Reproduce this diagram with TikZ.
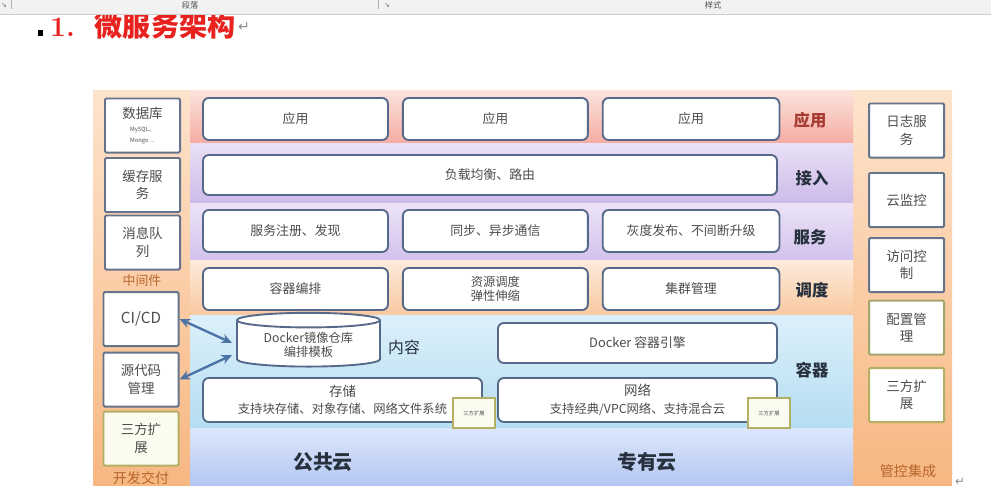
\documentclass[tikz,border=0pt]{standalone}
\usepackage{fontspec}
\usepackage{xcolor}
\usepackage{tikz}
\usetikzlibrary{positioning,arrows.meta,calc,shapes.geometric}

\newfontfamily\cjk{Noto Sans CJK SC}
\newfontfamily\symfont{DejaVu Sans}

\definecolor{boxline}{HTML}{56698A}
\definecolor{sideline}{HTML}{65738C}
\definecolor{extline}{HTML}{B3B066}
\definecolor{extfill}{HTML}{FBFBF0}
\definecolor{boxtext}{HTML}{4D4D4D}
\definecolor{lbltext}{HTML}{26313D}
\definecolor{apptext}{HTML}{A83A32}
\definecolor{sidetext}{HTML}{B8652A}
\definecolor{arrowblue}{HTML}{4B73A8}
\definecolor{titlered}{HTML}{E8231F}
\definecolor{sidetop}{HTML}{FDE3CC}
\definecolor{sidebot}{HTML}{F7B781}
\definecolor{apptop}{HTML}{FBE3DE}
\definecolor{appbot}{HTML}{F5ADA3}
\definecolor{gwtop}{HTML}{E9E0F6}
\definecolor{gwbot}{HTML}{CDBBE8}
\definecolor{svctop}{HTML}{ECE3F7}
\definecolor{svcbot}{HTML}{D2C2EC}
\definecolor{schtop}{HTML}{FDEBDC}
\definecolor{schbot}{HTML}{F9C9A0}
\definecolor{ctrtop}{HTML}{DCF0FA}
\definecolor{ctrbot}{HTML}{B5DDF1}
\definecolor{cloudtop}{HTML}{DCE7FC}
\definecolor{cloudbot}{HTML}{B4C7F2}

\begin{document}
\begin{tikzpicture}[
  x=0.03cm, y=-0.03cm,
  node distance=0.39cm,
  layerbox/.style={draw=boxline, line width=1.6pt, rounded corners=5pt, fill=white,
                   minimum width=5.55cm, minimum height=1.26cm, align=center,
                   text=boxtext, font=\cjk\fontsize{11}{14}\selectfont},
  sidebox/.style={draw=sideline, line width=1.7pt, rounded corners=1pt, fill=white,
                  minimum width=2.25cm, minimum height=1.62cm, align=center,
                  text=boxtext, font=\cjk\fontsize{11.5}{15}\selectfont},
  extbox/.style={sidebox, draw=extline, fill=extfill},
  tinyext/.style={draw=extline, line width=1.3pt, fill=extfill,
                  minimum width=1.26cm, minimum height=0.9cm, inner sep=1pt,
                  text=boxtext, font=\cjk\fontsize{4.5}{5}\selectfont},
  layerlbl/.style={text=lbltext, font=\cjk\bfseries\fontsize{14}{16}\selectfont},
  grouplbl/.style={text=sidetext, font=\cjk\fontsize{11}{13}\selectfont},
  cloudlbl/.style={text=lbltext, font=\cjk\bfseries\fontsize{17}{19}\selectfont},
  biarr/.style={{Stealth[length=9pt,width=8pt]}-{Stealth[length=9pt,width=8pt]},
                line width=2pt, draw=arrowblue},
]
\useasboundingbox (0,0) rectangle (991,502);
\fill[white] (0,0) rectangle (991,502);

%% Title
\fill (38,30) rectangle (43,36);
\node[anchor=base west, inner sep=0pt, text=titlered,
      font=\bfseries\fontsize{24}{26}\selectfont] (title) at (50,36)
  {1.\hspace{0.6cm}{\cjk 微服务架构}};
\node[anchor=base west, inner sep=0pt, text=black!45,
      font=\symfont\fontsize{12}{12}\selectfont] (titleret) at (238,31) {↵};

%% Toolbar strip
\fill[black!5] (0,0) rectangle (991,14);
\draw[black!20] (0,14) -- (991,14);
\node[inner sep=0pt, text=black!70, font=\cjk\fontsize{7}{8}\selectfont] (tbpara) at (190,5.5) {段落};
\node[inner sep=0pt, text=black!70, font=\cjk\fontsize{7}{8}\selectfont] (tbstyle) at (713,5.5) {样式};
\node[text=black!55, font=\symfont\fontsize{6}{6}\selectfont] (tbmark1) at (4,5) {↘};
\node[text=black!55, font=\symfont\fontsize{6}{6}\selectfont] (tbmark2) at (387,5) {↘};
\draw[black!30] (11,0) -- (11,9);
\draw[black!30] (378,0) -- (378,9);

%% Bands
\shade[top color=sidetop, bottom color=sidebot] (93,90) rectangle (190,485);
\shade[top color=sidetop, bottom color=sidebot] (853,90) rectangle (952,485);
\shade[top color=apptop, bottom color=appbot] (190,90) rectangle (853,143);
\shade[top color=gwtop, bottom color=gwbot] (190,143) rectangle (853,203);
\shade[top color=svctop, bottom color=svcbot] (190,203) rectangle (853,260);
\shade[top color=schtop, bottom color=schbot] (190,260) rectangle (853,315);
\shade[top color=ctrtop, bottom color=ctrbot] (190,315) rectangle (853,428);
\shade[top color=cloudtop, bottom color=cloudbot] (190,428) rectangle (853,485);

%% Application layer
\node[layerbox] (app1) at (295.5,119) {应用};
\node[layerbox, right=of app1] (app2) {应用};
\node[layerbox, right=of app2, minimum width=5.3cm] (app3) {应用};
\node[layerlbl, text=apptext] (lblapp) at (810,120) {应用};

%% Access layer
\node[layerbox, minimum width=17.22cm, minimum height=1.2cm] (lb) at (490,175) {负载均衡、路由};
\node[layerlbl] (lblgw) at (812,178) {接入};

%% Service layer
\node[layerbox] (svc1) at (295.5,231) {服务注册、发现};
\node[layerbox, right=of svc1] (svc2) {同步、异步通信};
\node[layerbox, right=of svc2, minimum width=5.3cm] (svc3) {灰度发布、不间断升级};
\node[layerlbl] (lblsvc) at (810,237) {服务};

%% Scheduling layer
\node[layerbox] (sch1) at (295.5,289) {容器编排};
\node[layerbox, right=of sch1, font=\cjk\fontsize{10.5}{12}\selectfont] (sch2) {资源调度\\弹性伸缩};
\node[layerbox, right=of sch2, minimum width=5.3cm] (sch3) {集群管理};
\node[layerlbl] (lblsch) at (812,290) {调度};

%% Container layer
\node[cylinder, shape border rotate=90, aspect=0.15, draw=boxline, line width=1.6pt,
      fill=white, minimum width=4.29cm, minimum height=1.32cm, align=center,
      text=boxtext, font=\cjk\fontsize{10.5}{12}\selectfont] (repo) at (308.5,345)
  {Docker镜像仓库\\编排模板};
\node[text=lbltext, font=\cjk\fontsize{13.5}{15}\selectfont] (lblcontent) at (404,347) {内容};
\node[layerbox, minimum width=8.37cm, minimum height=1.2cm] (engine) at (637.5,343) {Docker 容器引擎};
\node[layerbox, minimum width=8.37cm, minimum height=1.32cm, font=\cjk\fontsize{10.5}{15}\selectfont] (storage) at (342.5,400)
  {{\fontsize{11.5}{15}\selectfont 存储}\\支持块存储、对象存储、网络文件系统};
\node[layerbox, minimum width=8.37cm, minimum height=1.32cm, font=\cjk\fontsize{10.5}{15}\selectfont] (network) at (637.5,400)
  {{\fontsize{11.5}{15}\selectfont 网络}\\支持经典/VPC网络、支持混合云};
\node[tinyext] (storext) at (474,413) {三方扩展};
\node[tinyext] (netext) at (769,413) {三方扩展};
\node[layerlbl] (lblctr) at (812,370) {容器};

%% Cloud layer
\node[cloudlbl] (pubcloud) at (323,462) {公共云};
\node[cloudlbl] (privcloud) at (647,462) {专有云};

%% Middleware column
\node[sidebox] (db) at (142.5,125.5)
  {数据库\\[-4pt]{\fontsize{5}{6}\selectfont MySQL、}\\[-6pt]{\fontsize{5}{6}\selectfont Mongo ...}};
\node[sidebox] (cache) at (142.5,185) {缓存服\\务};
\node[sidebox] (mq) at (142.5,242.5) {消息队\\列};
\node[grouplbl] (lblmid) at (142,281) {中间件};

%% Delivery column
\node[sidebox, font=\cjk\fontsize{13}{15}\selectfont] (cicd) at (141,319) {CI/CD};
\node[sidebox] (scm) at (141,379.5) {源代码\\管理};
\node[extbox] (devext) at (141,438.5) {三方扩\\展};
\node[grouplbl, font=\cjk\fontsize{12}{14}\selectfont] (lbldev) at (141,478) {开发交付};

%% Control column
\node[sidebox] (log) at (906.5,130.5) {日志服\\务};
\node[sidebox] (mon) at (906.5,200) {云监控};
\node[sidebox] (acl) at (906.5,265) {访问控\\制};
\node[extbox, draw=extline!80!sideline, fill=white] (cfg) at (906.5,327.5) {配置管\\理};
\node[extbox, fill=white] (ctlext) at (906.5,395) {三方扩\\展};
\node[grouplbl, font=\cjk\fontsize{12}{14}\selectfont] (lblctl) at (908,471) {管控集成};

%% Links to the image repository
\draw[biarr] (cicd.east) -- ($(repo.west)+(-4,-2)$);
\draw[biarr] (scm.east) -- ($(repo.west)+(-4,10)$);

\node[text=black!45, font=\symfont\fontsize{10}{10}\selectfont] (endret) at (960,482) {↵};
\end{tikzpicture}
\end{document}
